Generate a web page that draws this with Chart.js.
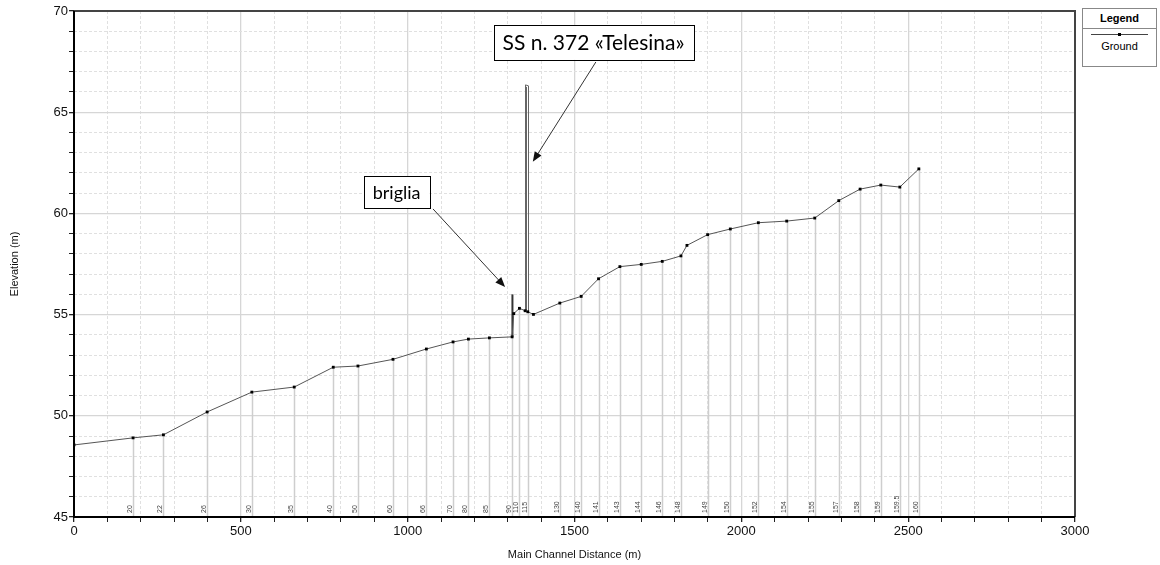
<!DOCTYPE html>
<html>
<head>
<meta charset="utf-8">
<script src="https://cdn.jsdelivr.net/npm/chart.js@4.4.1/dist/chart.umd.min.js"></script>
<style>
  html, body { margin: 0; padding: 0; background: #fff; }
  #wrap { position: relative; width: 1160px; height: 565px; }
  #legendBox {
    position: absolute; left: 1082px; top: 8px; width: 73px; height: 57px;
    border: 1px solid #888; background: #fff; font-family: 'Liberation Sans', Arial, sans-serif;
  }
  #legendBox .lg-head { text-align: center; font-size: 11px; font-weight: bold; height: 19px; line-height: 19px; border-bottom: 1px solid #888; }
  #legendBox .lg-line { position: relative; height: 10px; }
  #legendBox .lg-line::before { content: ''; position: absolute; left: 8px; right: 8px; top: 5px; border-top: 1px solid #444; }
  #legendBox .lg-line::after { content: ''; position: absolute; left: 35px; top: 4px; width: 3px; height: 3px; background: #000; }
  #legendBox .lg-name { text-align: center; font-size: 11px; line-height: 14px; }
</style>
</head>
<body>
<div id="wrap">
  <canvas id="profileChart" width="1160" height="565"></canvas>
  <div id="legendBox">
    <div class="lg-head">Legend</div>
    <div class="lg-line"></div>
    <div class="lg-name">Ground</div>
  </div>
</div>
<script>
// ── Ground profile (main channel distance in m, elevation in m) ──
const distances = [0, 177, 268, 399, 533, 660, 777, 851, 956, 1056, 1136, 1182, 1245, 1313, 1318, 1335, 1352, 1360, 1377,
  1456, 1520, 1572, 1636, 1700, 1763, 1819, 1837, 1899, 1967, 2051, 2136, 2220, 2292, 2356, 2418, 2475, 2532];
const elevations = [48.56, 48.91, 49.06, 50.19, 51.17, 51.42, 52.40, 52.46, 52.79, 53.30, 53.65, 53.79, 53.85, 53.90, 55.05, 55.31, 55.19, 55.14, 55.01,
  55.57, 55.90, 56.77, 57.37, 57.48, 57.63, 57.90, 58.42, 58.95, 59.23, 59.54, 59.62, 59.77, 60.63, 61.20, 61.40, 61.30, 62.20];
// river station labels ('' = no cross-section label)
const stations = ['', '20', '22', '26', '30', '35', '40', '50', '60', '66', '70', '80', '85', '90', '', '110', '', '115', '',
  '130', '140', '141', '143', '144', '146', '148', '', '149', '150', '152', '154', '155', '157', '158', '159', '159.5', '160'];

// structures
const weirX = 1314;
const weirRange = [53.9, 56.0];
const bridgeX = [1352, 1361];
const bridgeTop = 66.35;

// axes
const xRange = [0, 3000];
const yRange = [45, 70];

// callouts: text, box centre (data units), arrow start / tip (data units)
const callouts = [
  { text: 'briglia', size: 18, at: [967, 61.06], from: [1076, 60.22], to: [1292, 56.36] },
  { text: 'SS n. 372 «Telesina»', size: 21, at: [1557, 68.45], from: [1564, 67.48], to: [1375, 62.55] },
];

const FONT = "'Liberation Sans', Arial, sans-serif";

// ── Plugin: station verticals, structures, labels, frame, callouts ──
const profileExtras = {
  id: 'profileExtras',
  beforeDatasetsDraw(chart) {
    const { ctx, chartArea: a, scales: { x, y } } = chart;
    ctx.save();
    // cross-section verticals
    ctx.strokeStyle = '#cecece';
    ctx.lineWidth = 1.5;
    distances.forEach((d, i) => {
      if (!stations[i]) return;
      const px = Math.round(x.getPixelForValue(d)) + 0.5;
      ctx.beginPath();
      ctx.moveTo(px, y.getPixelForValue(elevations[i]));
      ctx.lineTo(px, a.bottom);
      ctx.stroke();
    });
    // bridge piers / deck
    ctx.strokeStyle = '#666';
    ctx.lineWidth = 1;
    const bx0 = Math.round(x.getPixelForValue(bridgeX[0])) + 0.5;
    const bx1 = Math.round(x.getPixelForValue(bridgeX[1])) + 0.5;
    const top = y.getPixelForValue(bridgeTop);
    ctx.beginPath();
    ctx.moveTo(bx0, y.getPixelForValue(elevations[distances.indexOf(bridgeX[0])] ?? 55.2));
    ctx.lineTo(bx0, top);
    ctx.lineTo(bx1, top + 1);
    ctx.lineTo(bx1, y.getPixelForValue(55.14));
    ctx.moveTo(bx0 + 1, top + 2);
    ctx.lineTo(bx0 + 1, y.getPixelForValue(55.2));
    ctx.stroke();
    // weir
    ctx.strokeStyle = '#333';
    ctx.lineWidth = 2;
    const wx = x.getPixelForValue(weirX);
    ctx.beginPath();
    ctx.moveTo(wx, y.getPixelForValue(weirRange[0]));
    ctx.lineTo(wx, y.getPixelForValue(weirRange[1]));
    ctx.stroke();
    // station labels
    ctx.fillStyle = '#444';
    ctx.font = '7px ' + FONT;
    ctx.textAlign = 'left';
    ctx.textBaseline = 'alphabetic';
    distances.forEach((d, i) => {
      if (!stations[i]) return;
      const px = Math.round(x.getPixelForValue(d)) - 1;
      ctx.save();
      ctx.translate(px, a.bottom - 4);
      ctx.rotate(-Math.PI / 2);
      ctx.fillText(stations[i], 0, 0);
      ctx.restore();
    });
    ctx.restore();
  },
  afterDraw(chart) {
    const { ctx, chartArea: a, scales: { x, y } } = chart;
    ctx.save();
    // frame
    ctx.strokeStyle = '#444';
    ctx.lineWidth = 2;
    ctx.beginPath();
    ctx.moveTo(a.left, a.top);
    ctx.lineTo(a.right, a.top);
    ctx.lineTo(a.right, a.bottom);
    ctx.stroke();
    ctx.strokeStyle = '#000';
    ctx.beginPath();
    ctx.moveTo(a.left, a.top);
    ctx.lineTo(a.left, a.bottom);
    ctx.lineTo(a.right, a.bottom);
    ctx.stroke();
    // callouts
    callouts.forEach(c => {
      ctx.font = c.size + "px Lato, 'Open Sans', sans-serif";
      const w = ctx.measureText(c.text).width;
      const cx = x.getPixelForValue(c.at[0]);
      const cy = y.getPixelForValue(c.at[1]);
      const bw = w + 18, bh = c.size + 14;
      ctx.fillStyle = '#fff';
      ctx.fillRect(cx - bw / 2, cy - bh / 2, bw, bh);
      ctx.strokeStyle = '#000';
      ctx.lineWidth = 1;
      ctx.strokeRect(Math.round(cx - bw / 2) + 0.5, Math.round(cy - bh / 2) + 0.5, Math.round(bw), Math.round(bh));
      ctx.fillStyle = '#000';
      ctx.textAlign = 'center';
      ctx.textBaseline = 'middle';
      ctx.fillText(c.text, cx, cy + 1);
      // arrow
      const x0 = x.getPixelForValue(c.from[0]), y0 = y.getPixelForValue(c.from[1]);
      const x1 = x.getPixelForValue(c.to[0]), y1 = y.getPixelForValue(c.to[1]);
      const ang = Math.atan2(y1 - y0, x1 - x0);
      ctx.strokeStyle = '#333';
      ctx.beginPath();
      ctx.moveTo(x0, y0);
      ctx.lineTo(x1 - 8 * Math.cos(ang), y1 - 8 * Math.sin(ang));
      ctx.stroke();
      ctx.fillStyle = '#111';
      ctx.beginPath();
      ctx.moveTo(x1, y1);
      ctx.lineTo(x1 - 10 * Math.cos(ang) + 4 * Math.sin(ang), y1 - 10 * Math.sin(ang) - 4 * Math.cos(ang));
      ctx.lineTo(x1 - 10 * Math.cos(ang) - 4 * Math.sin(ang), y1 - 10 * Math.sin(ang) + 4 * Math.cos(ang));
      ctx.closePath();
      ctx.fill();
    });
    ctx.restore();
  }
};

function gridColor(major) { return major ? '#d6d6d6' : '#e0e0e0'; }

new Chart(document.getElementById('profileChart'), {
  type: 'line',
  data: {
    datasets: [{
      label: 'Ground',
      data: distances.map((d, i) => ({ x: d, y: elevations[i] })),
      borderColor: '#555',
      borderWidth: 1,
      pointStyle: 'rect',
      pointRadius: 2,
      pointBackgroundColor: '#000',
      pointBorderColor: '#000',
      pointBorderWidth: 0,
      tension: 0
    }]
  },
  options: {
    responsive: false,
    animation: false,
    layout: { padding: { top: 11, right: 85, left: 0, bottom: 0 } },
    plugins: { legend: { display: false }, tooltip: { enabled: false } },
    scales: {
      x: {
        type: 'linear',
        min: xRange[0], max: xRange[1],
        afterFit: s => { s.height = 48; },
        ticks: {
          stepSize: 100, autoSkip: false, maxRotation: 0, padding: 2,
          color: '#111', font: { family: FONT, size: 13 },
          callback: v => (v % 500 === 0 ? v : '')
        },
        grid: {
          color: c => gridColor(c.tick && c.tick.value % 500 === 0),
          lineWidth: c => (c.tick && c.tick.value % 500 === 0 ? 1.3 : 1),
          tickColor: '#222', tickLength: 5
        },
        border: { display: false, dash: c => (c.tick && c.tick.value % 500 === 0 ? [] : [3, 2]) },
        title: { display: true, text: 'Main Channel Distance (m)', color: '#111', font: { family: FONT, size: 11 }, padding: { top: 0, bottom: 3 } }
      },
      y: {
        min: yRange[0], max: yRange[1],
        afterFit: s => { s.width = 74; },
        ticks: {
          stepSize: 1, autoSkip: false, padding: 1,
          color: '#111', font: { family: FONT, size: 13 },
          callback: v => (v % 5 === 0 ? v : '')
        },
        grid: {
          color: c => gridColor(c.tick && c.tick.value % 5 === 0),
          lineWidth: c => (c.tick && c.tick.value % 5 === 0 ? 1.3 : 1),
          tickColor: '#222', tickLength: 5
        },
        border: { display: false, dash: c => (c.tick && c.tick.value % 5 === 0 ? [] : [3, 2]) },
        title: { display: true, text: 'Elevation (m)', color: '#111', font: { family: FONT, size: 11 }, padding: { top: 8, bottom: 0 } }
      }
    }
  },
  plugins: [profileExtras]
});
</script>
</body>
</html>
